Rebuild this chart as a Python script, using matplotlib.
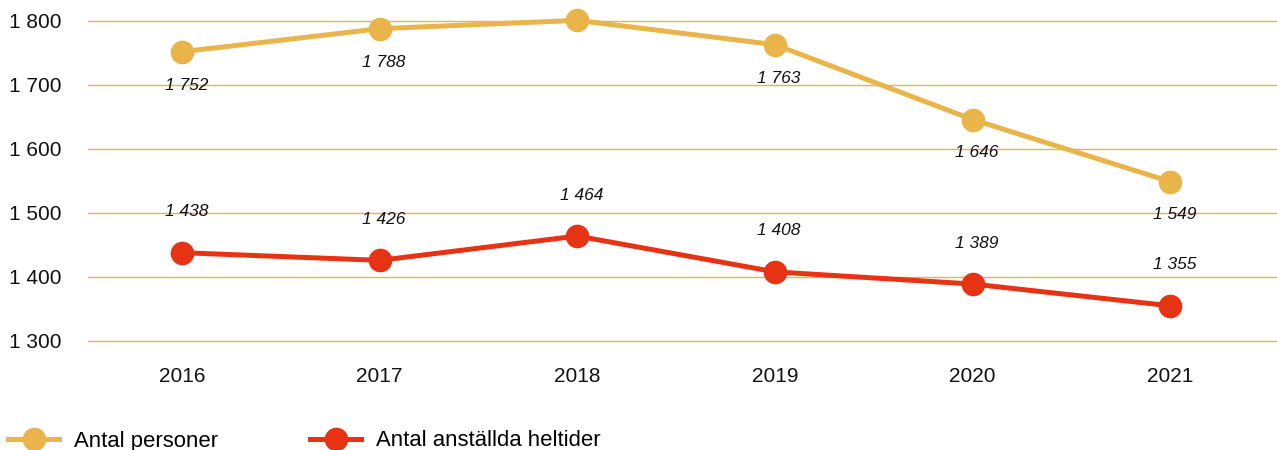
import matplotlib
matplotlib.use("Agg")
import matplotlib.pyplot as plt
from matplotlib.ticker import FuncFormatter

plt.rcParams['font.family'] = ['Liberation Sans', 'DejaVu Sans']

years = ["2016", "2017", "2018", "2019", "2020", "2021"]
antal_personer = [1752, 1788, 1801, 1763, 1646, 1549]
antal_heltider = [1438, 1426, 1464, 1408, 1389, 1355]
y_ticks = [1300, 1400, 1500, 1600, 1700, 1800]

yellow = "#E9B54A"
red = "#E63314"
grid_col = "#E8B448"

def fmt(v):
    return f"{int(v):,}".replace(",", " ")

fig = plt.figure(figsize=(12.77, 4.5), dpi=100)
ax = fig.add_axes([88/1277, 109/450, 1189/1277, 320/450])

x = list(range(len(years)))
ax.plot(x, antal_personer, color=yellow, lw=3.6, marker="o", ms=16, clip_on=False,
        zorder=3, label="Antal personer")
ax.plot(x, antal_heltider, color=red, lw=3.6, marker="o", ms=16, clip_on=False,
        zorder=3, label="Antal anställda heltider")

for xi, v in zip(x, antal_personer):
    ax.annotate(fmt(v), (xi, v), xytext=(3, -24), textcoords="offset points",
                ha="center", va="center", fontsize=12.5, style="italic", color="#111111")
for xi, v in zip(x, antal_heltider):
    ax.annotate(fmt(v), (xi, v), xytext=(3, 29.5), textcoords="offset points",
                ha="center", va="center", fontsize=12.5, style="italic", color="#111111")

ax.set_xlim(-0.476, 5.54)
ax.set_ylim(1300, 1800)
ax.set_yticks(y_ticks)
ax.yaxis.set_major_formatter(FuncFormatter(lambda v, p: fmt(v)))
ax.set_xticks(x)
ax.set_xticklabels(years)
ax.tick_params(axis="y", length=0, pad=19, labelsize=15, labelcolor="#111111")
ax.tick_params(axis="x", length=0, pad=19, labelsize=15, labelcolor="#111111")
ax.grid(axis="y", color=grid_col, lw=1)
for gl in ax.get_ygridlines():
    gl.set_clip_on(False)
ax.set_axisbelow(True)
for s in ax.spines.values():
    s.set_visible(False)

fig.legend(loc="center left", bbox_to_anchor=(8/1277, 9/450), ncol=2, frameon=False,
           fontsize=15.9, handlelength=2.31, handletextpad=0.68, columnspacing=4.17,
           borderpad=0, borderaxespad=0)

fig.savefig("out.png", dpi=100)
